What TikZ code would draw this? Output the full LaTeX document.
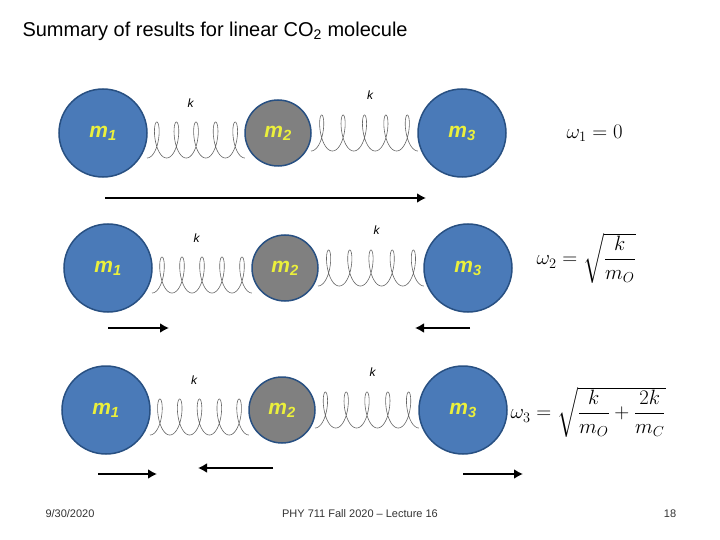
\documentclass[tikz,border=0pt]{standalone}
\usepackage{fontspec}
\setmainfont{Liberation Sans}
\usepackage{amsmath}
\usetikzlibrary{arrows.meta}
\definecolor{ballblue}{RGB}{74,122,184}
\definecolor{balledge}{RGB}{40,80,130}
\definecolor{ballgrey}{RGB}{128,128,128}
\definecolor{lbl}{RGB}{235,240,60}
\tikzset{
  big/.style={circle,draw=balledge,line width=1.5pt,fill=ballblue,minimum size=88pt,inner sep=0pt,font=\bfseries\itshape\fontsize{21}{21}\selectfont,text=lbl},
  small/.style={big,fill=ballgrey,minimum size=66pt},
  springline/.style={draw=gray!80!black,line width=0.6pt},
  mv/.style={line width=2.5pt,-{Latex[length=9pt,width=10pt]}},
  klab/.style={font=\itshape\fontsize{12}{12}\selectfont}
}
% spring from x=#1 to #2 at base y #3
\newcommand{\myspring}[3]{%
  \draw[springline,domain=0:31.4159,samples=300,smooth,variable=\t]
    plot ({#1+((#2)-(#1))*\t/31.4159+6.5*sin(\t r)},{#3-18*(1-cos(\t r))});}
\begin{document}
\begin{tikzpicture}[x=1pt,y=-1pt]
\useasboundingbox (0,0) rectangle (720,540);
\node[anchor=west,font=\fontsize{20}{20}\selectfont] (title) at (19,31) {Summary of results for linear CO\textsubscript{2} molecule};
\foreach \r/\y/\a/\b/\c in {1/133/103/278/462, 2/268/108/285/468, 3/410/106/282/463}{
  \myspring{\a+44}{\b-33}{\y+25}
  \myspring{\b+33}{\c-44}{\y+18}
  \node[big] (a\r) at (\a,\y) {m\textsubscript{1}};
  \node[small] (b\r) at (\b,\y) {m\textsubscript{2}};
  \node[big] (c\r) at (\c,\y) {m\textsubscript{3}};
  \node[klab] (ka\r) at ({(\a+\b)/2},\y-30) {k};
  \node[klab] (kb\r) at ({(\b+\c)/2},\y-38) {k};
}
\coordinate (r1s) at (105,198); \coordinate (r1e) at (426,198);
\draw[mv] (r1s) -- (r1e);
\coordinate (r2s) at (108,328); \coordinate (r2e) at (169,328);
\draw[mv] (r2s) -- (r2e);
\coordinate (r2t) at (470,328); \coordinate (r2u) at (415,328);
\draw[mv] (r2t) -- (r2u);
\coordinate (r3s) at (98,474); \coordinate (r3e) at (157,474);
\draw[mv] (r3s) -- (r3e);
\coordinate (r3t) at (273,468); \coordinate (r3u) at (198,468);
\draw[mv] (r3t) -- (r3u);
\coordinate (r3v) at (463,474); \coordinate (r3w) at (523,474);
\draw[mv] (r3v) -- (r3w);
\node[anchor=west,font=\fontsize{22}{22}\selectfont] (w1) at (563,133) {$\omega_1 = 0$};
\node[anchor=west,font=\fontsize{22}{22}\selectfont] (w2) at (533,258) {$\omega_2 = \sqrt{\dfrac{k}{m_O}}$};
\node[anchor=west,font=\fontsize{22}{22}\selectfont] (w3) at (507,412) {$\omega_3 = \sqrt{\dfrac{k}{m_O}+\dfrac{2k}{m_C}}$};
\node[font=\fontsize{11}{11}\selectfont,text=gray!40!black] (date) at (70,514) {9/30/2020};
\node[font=\fontsize{11}{11}\selectfont,text=gray!40!black] (foot) at (360,514) {PHY 711 Fall 2020 -- Lecture 16};
\node[font=\fontsize{11}{11}\selectfont,text=gray!40!black] (page) at (670,514) {18};
\end{tikzpicture}
\end{document}
